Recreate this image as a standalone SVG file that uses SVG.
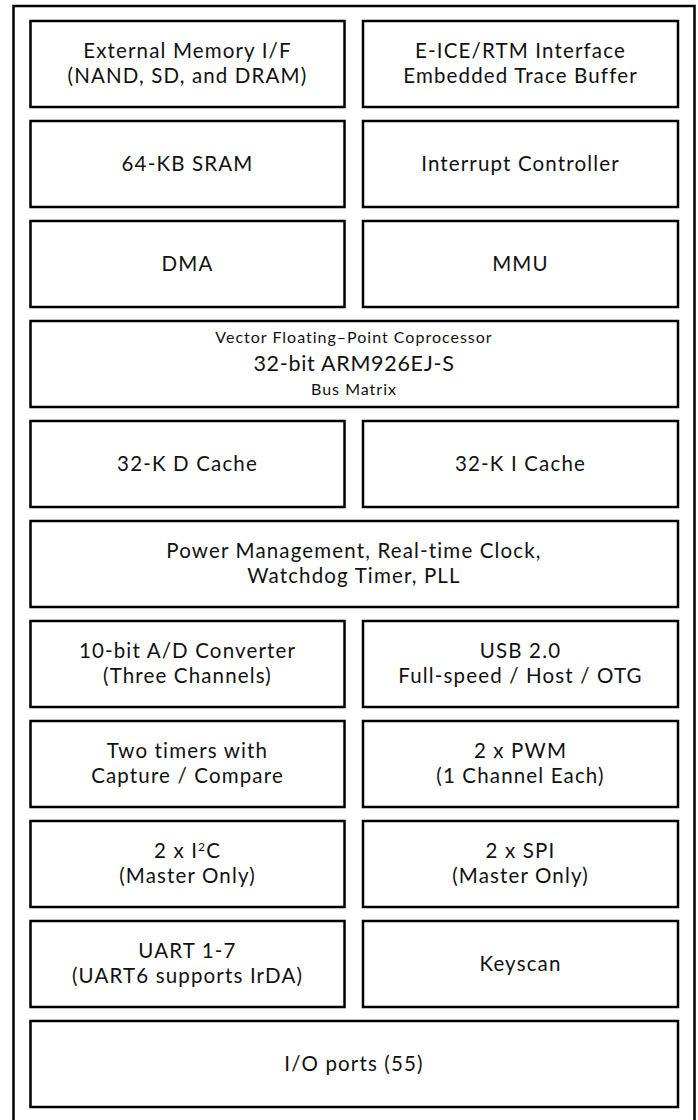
<svg xmlns="http://www.w3.org/2000/svg" width="698" height="1120" viewBox="0 0 698 1120">
<style>
.frame{fill:none;stroke:#000;stroke-width:2.5}
.box{fill:#fff;stroke:#000;stroke-width:2.5}
text{font-family:Lato,"Open Sans",sans-serif;font-size:20.5px;letter-spacing:1.15px;fill:#111;text-anchor:middle}
.sm{font-size:16px;letter-spacing:1px}
.md{font-size:21.5px;letter-spacing:0.7px}
</style>
<rect fill="#fff" x="0" y="0" width="698" height="1120"/>
<rect class="frame" x="13.5" y="6" width="681" height="1130"/>
<g id="ext-mem"><rect class="box" x="30.5" y="21" width="314" height="86"/><text x="187.5" y="58.2">External Memory I/F</text><text x="187.5" y="83">(NAND, SD, and DRAM)</text></g>
<g id="eice"><rect class="box" x="363" y="21" width="315" height="86"/><text x="520.5" y="58.2">E-ICE/RTM Interface</text><text x="520.5" y="83">Embedded Trace Buffer</text></g>
<g id="sram"><rect class="box" x="30.5" y="121" width="314" height="86"/><text x="187.5" y="171">64-KB SRAM</text></g>
<g id="intc"><rect class="box" x="363" y="121" width="315" height="86"/><text x="520.5" y="171">Interrupt Controller</text></g>
<g id="dma"><rect class="box" x="30.5" y="221" width="314" height="86"/><text x="187.5" y="271">DMA</text></g>
<g id="mmu"><rect class="box" x="363" y="221" width="315" height="86"/><text x="520.5" y="271">MMU</text></g>
<g id="arm"><rect class="box" x="30.5" y="321" width="647.5" height="86"/><text class="sm" x="354" y="343">Vector Floating–Point Coprocessor</text><text class="md" x="354" y="371">32-bit ARM926EJ-S</text><text class="sm" x="354" y="395">Bus Matrix</text></g>
<g id="dcache"><rect class="box" x="30.5" y="421" width="314" height="86"/><text x="187.5" y="471">32-K D Cache</text></g>
<g id="icache"><rect class="box" x="363" y="421" width="315" height="86"/><text x="520.5" y="471">32-K I Cache</text></g>
<g id="power"><rect class="box" x="30.5" y="521" width="647.5" height="86"/><text x="354" y="558.2">Power Management, Real-time Clock,</text><text x="354" y="583">Watchdog Timer, PLL</text></g>
<g id="adc"><rect class="box" x="30.5" y="621" width="314" height="86"/><text x="187.5" y="658.2">10-bit A/D Converter</text><text x="187.5" y="683">(Three Channels)</text></g>
<g id="usb"><rect class="box" x="363" y="621" width="315" height="86"/><text x="520.5" y="658.2">USB 2.0</text><text x="520.5" y="683">Full-speed / Host / OTG</text></g>
<g id="timers"><rect class="box" x="30.5" y="721" width="314" height="86"/><text x="187.5" y="758.2">Two timers with</text><text x="187.5" y="783">Capture / Compare</text></g>
<g id="pwm"><rect class="box" x="363" y="721" width="315" height="86"/><text x="520.5" y="758.2">2 x PWM</text><text x="520.5" y="783">(1 Channel Each)</text></g>
<g id="i2c"><rect class="box" x="30.5" y="821" width="314" height="86"/><text x="187.5" y="858.2">2 x I<tspan font-size="12" dy="-7">2</tspan><tspan dy="7">C</tspan></text><text x="187.5" y="883">(Master Only)</text></g>
<g id="spi"><rect class="box" x="363" y="821" width="315" height="86"/><text x="520.5" y="858.2">2 x SPI</text><text x="520.5" y="883">(Master Only)</text></g>
<g id="uart"><rect class="box" x="30.5" y="921" width="314" height="86"/><text x="187.5" y="958.2">UART 1-7</text><text x="187.5" y="983">(UART6 supports IrDA)</text></g>
<g id="keyscan"><rect class="box" x="363" y="921" width="315" height="86"/><text x="520.5" y="971">Keyscan</text></g>
<g id="io"><rect class="box" x="30.5" y="1021" width="647.5" height="86"/><text x="354" y="1071">I/O ports (55)</text></g>
<g id="connectors"/>
</svg>
